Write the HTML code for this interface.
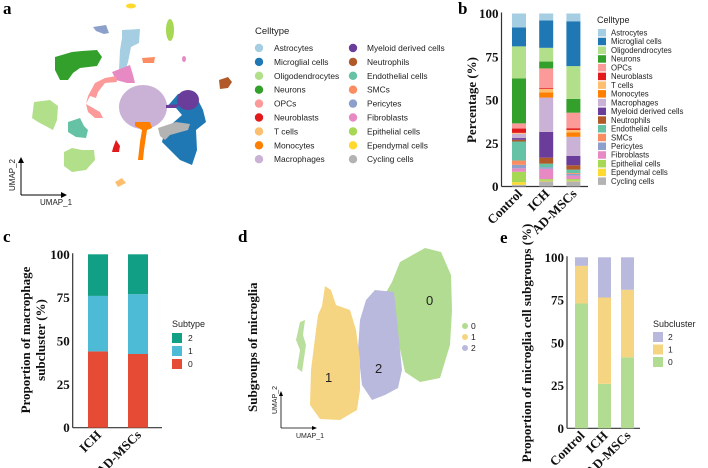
<!DOCTYPE html>
<html><head><meta charset="utf-8">
<style>
html,body{margin:0;padding:0;background:#fff;}
svg{display:block;}
.pl{font-family:"Liberation Serif",serif;font-weight:bold;font-size:17px;fill:#000;}
.tk{font-family:"Liberation Serif",serif;font-weight:bold;font-size:13px;fill:#111;}
.lg{font-family:"Liberation Sans",sans-serif;fill:#222;}
</style></head>
<body>
<svg id="fig" width="708" height="468" viewBox="0 0 708 468" xmlns="http://www.w3.org/2000/svg">
<text class="pl" x="3" y="14">a</text>
<text class="pl" x="458" y="14">b</text>
<text class="pl" x="3" y="242">c</text>
<text class="pl" x="238" y="242">d</text>
<text class="pl" x="500" y="243">e</text>

<!-- Panel a UMAP -->
<g id="umapA">
<ellipse cx="131" cy="6" rx="5" ry="2.5" fill="#ffd92f"/>
<path d="M93,27 L106,25 L109,33 L104,34 L96,31Z" fill="#8da0cb"/>
<ellipse cx="170" cy="30" rx="4" ry="11" fill="#a6d854"/>
<path d="M122,30 L140,29 L139,43 L131,47 L128,62 L125,72 L119,70 L120,50 L122,38Z" fill="#a6cee3"/>
<path d="M142,58 L155,57 L154,63 L143,63Z" fill="#fc8d62"/>
<path d="M55,57 L72,52 L82,51 L97,50 L102,57 L97,66 L80,68 L73,73 L68,80 L60,80 L55,70Z" fill="#33a02c"/>
<path d="M112,72 L130,65 L133,75 L135,83 L127,83 L116,80Z" fill="#e78ac3"/>
<ellipse cx="184" cy="59" rx="2" ry="3" fill="#e78ac3"/>
<path d="M105,78 L116,76 L117,82 L105,83 L98,92 L96,98 L90,96 L86,104 L100,112 L103,118 L95,118 L88,112 L86,104 L88,96 L95,83Z" fill="#fb9a99"/>
<path d="M34,102 L50,100 L58,106 L57,120 L53,130 L38,122 L32,118Z" fill="#b2df8a"/>
<path d="M68,122 L80,118 L84,126 L88,130 L86,138 L76,137 L68,132Z" fill="#66c2a5"/>
<path d="M64,152 L72,148 L82,150 L94,150 L95,160 L86,170 L72,172 L64,166Z" fill="#b2df8a"/>
<path d="M113,148 L116,140 L120,146 L119,152 L112,152Z" fill="#e31a1c"/>
<path d="M115,182 L122,178 L126,183 L118,187Z" fill="#fdbf6f"/>
<ellipse cx="143" cy="107" rx="24" ry="22" fill="#cab2d6"/>
<path d="M135,122 L150,122 L152,128 L147,130 L144,150 L143,160 L138,160 L140,142 L142,130 L135,126Z" fill="#ff7f00"/>
<path d="M166,108 L178,94 L192,91 L198,100 L203,110 L206,122 L196,130 L197,150 L192,165 L180,160 L170,150 L162,142 L165,130 L182,115 L176,108Z" fill="#1f78b4"/>
<ellipse cx="188" cy="100" rx="11" ry="10" fill="#6a3d9a"/>
<path d="M166,105 L180,104 L176,108 L166,108Z" fill="#6a3d9a"/>
<path d="M158,128 L176,122 L190,124 L188,130 L170,135 L165,140 L160,136Z" fill="#b3b3b3"/>
<path d="M219,80 L228,77 L232,82 L228,88 L220,89Z" fill="#b15928"/>
<g stroke="#000" stroke-width="1" fill="none">
<line x1="21" y1="195" x2="21" y2="161"/><line x1="21" y1="195" x2="63" y2="195"/></g>
<path d="M21,157 L18,163 L24,163Z M67,195 L61,192 L61,198Z" fill="#000"/>
<text class="lg" font-size="8" x="40" y="205">UMAP_1</text>
<text class="lg" font-size="8" transform="translate(15,191) rotate(-90)">UMAP_2</text>
</g>
<g id="legendA"></g>

<g id="chartB"></g>
<g id="chartC"></g>

<!-- Panel d -->
<g>
<path d="M300,322 L305,320 L303,335 L306,345 L302,372 L297,368 L300,350 L296,340Z" fill="#b2dc91" opacity="0.9"/>
<path d="M425,248 L441,252 L451,275 L452,310 L450,345 L440,378 L420,382 L405,372 L398,340 L392,300 L384,296 L392,282 L400,262Z" fill="#b2dc91"/>
<path d="M375,290 L394,292 L398,330 L402,370 L398,388 L385,395 L372,400 L362,385 L358,350 L360,320 L366,300Z" fill="#b9b8dd"/>
<path d="M325,286 L331,290 L336,305 L350,310 L356,330 L360,360 L360,390 L357,410 L340,420 L320,419 L310,405 L311,370 L316,330 L318,315 L322,306Z" fill="#f6d582"/>
<text class="lg" font-size="13" x="426" y="305">0</text>
<text class="lg" font-size="13" x="325" y="382">1</text>
<text class="lg" font-size="13" x="375" y="373">2</text>
<circle cx="465" cy="326" r="3" fill="#b2dc91"/><text class="lg" font-size="8.5" x="471" y="329">0</text>
<circle cx="465" cy="337" r="3" fill="#f6d582"/><text class="lg" font-size="8.5" x="471" y="340">1</text>
<circle cx="465" cy="348" r="3" fill="#b9b8dd"/><text class="lg" font-size="8.5" x="471" y="351">2</text>
<g stroke="#000" stroke-width="0.8"><line x1="281" y1="428" x2="281" y2="395"/><line x1="281" y1="428" x2="313" y2="428"/></g>
<path d="M281,391 L279,396 L283,396Z M317,428 L312,426 L312,430Z" fill="#000"/>
<text class="lg" font-size="7" x="296" y="438">UMAP_1</text>
<text class="lg" font-size="7" transform="translate(277,414) rotate(-90)">UMAP_2</text>
<text class="tk" font-size="12" transform="translate(257,412) rotate(-90)">Subgroups of microglia</text>
</g>

<g id="chartE"></g>
</svg>
<script>
var NS="http://www.w3.org/2000/svg";
function mk(parent,tag,attrs,txt){var e=document.createElementNS(NS,tag);for(var k in attrs)e.setAttribute(k,attrs[k]);if(txt!==undefined)e.textContent=txt;parent.appendChild(e);return e;}

var cellTypes=["Astrocytes","Microglial cells","Oligodendrocytes","Neurons","OPCs","Neuroblasts","T cells","Monocytes","Macrophages","Myeloid derived cells","Neutrophils","Endothelial cells","SMCs","Pericytes","Fibroblasts","Epithelial cells","Ependymal cells","Cycling cells"];
var cellColors=["#a6cee3","#1f78b4","#b2df8a","#33a02c","#fb9a99","#e31a1c","#fdbf6f","#ff7f00","#cab2d6","#6a3d9a","#b15928","#66c2a5","#fc8d62","#8da0cb","#e78ac3","#a6d854","#ffd92f","#b3b3b3"];
var groupsB=["Control","ICH","AD-MSCs"];
var controlPct=[8,11,18.5,26,3,2.5,0.5,0,2.5,1,1,11,2.5,2,2,6,1.5,1];
var ichPct=[4,16,8,4,11.5,0.5,2,3,20,15,3.5,2,0,1,6,1,0.3,3];
var admscPct=[4.5,26,19,8,9,1,1.5,2.5,11,5.5,2.5,2,0.5,1,2,1,0.3,3];
var seriesB=[controlPct,ichPct,admscPct];
var ticksB=[0,25,50,75,100];

var groupsC=["ICH","AD-MSCs"];
var subtypes=["2","1","0"];
var subtypeColors=["#11a085","#4dbbd5","#e64b35"];
var ichSub=[24,32,44];
var admscSub=[23,34.5,42.5];

var groupsE=["Control","ICH","AD-MSCs"];
var subclusters=["2","1","0"];
var subclusterColors=["#b9b8dd","#f6d582","#b2dc91"];
var controlSub=[5,22,73];
var ichSubE=[23.5,50.5,26];
var admscSubE=[19,39.5,41.5];

// Legend A
(function(){
 var g=document.getElementById("legendA");
 var t=mk(g,"text",{"class":"lg","font-size":"9.5",x:255,y:34},"Celltype");
 
 
 for(var i=0;i<cellTypes.length;i++){
  var col=i<9?0:1, row=i%9;
  var cx=col?353:259, tx=col?367:274, cy=48+row*13.9;
  var c=mk(g,"circle",{cx:cx,cy:cy,r:4.2,fill:cellColors[i]});
  
  
  var l=mk(g,"text",{"class":"lg","font-size":"8.4",x:tx,y:cy+3},cellTypes[i]);
  
  
 }
})();

function stackedChart(g,opt){
 var y=function(v){return opt.y0-(v/100)*(opt.y0-opt.y100);};
 mk(g,"line",{x1:opt.ax,y1:opt.y100-1,x2:opt.ax,y2:opt.y0,stroke:"#333","stroke-width":1.2});
 mk(g,"line",{x1:opt.ax,y1:opt.y0,x2:opt.axEnd,y2:opt.y0,stroke:"#333","stroke-width":1.2});
 opt.ticks.forEach(function(t){
  var tl=mk(g,"text",{"class":"tk",x:opt.ax-3,y:y(t)+4.5,"text-anchor":"end"},String(t));
  
  
 });
 opt.groups.forEach(function(gr,gi){
  var vals=opt.series[gi];
  var sum=vals.reduce(function(a,b){return a+b;},0);
  var cum=0;
  var x=opt.bx0+gi*opt.step;
  for(var k=vals.length-1;k>=0;k--){
   var v=vals[k]/sum*100;
   var r=mk(g,"rect",{x:x,y:y(cum+v),width:opt.bw,height:Math.max(0,y(cum)-y(cum+v)),fill:opt.colors[k]});
   
   
   cum+=v;
  }
  var lab=mk(g,"text",{"class":"tk","text-anchor":"end",transform:"translate("+(x+opt.bw/2+4)+","+(opt.y0+8)+") rotate(-45)"},gr);
  
  
 });
 var yt=mk(g,"text",{"class":"tk","text-anchor":"middle",transform:"translate("+opt.ytx+","+opt.yty+") rotate(-90)","font-size":opt.ytSize||13},opt.ytitle);
 
 
 if(opt.ytitle2){
  var yt2=mk(g,"text",{"class":"tk","text-anchor":"middle",transform:"translate("+(opt.ytx+15)+","+opt.yty+") rotate(-90)"},opt.ytitle2);
  
  
 }
}

stackedChart(document.getElementById("chartB"),{ax:501.5,axEnd:588,y0:186.5,y100:13.5,ticks:ticksB,groups:groupsB,series:seriesB,colors:cellColors,cats:cellTypes,bx0:512,step:27.2,bw:14,ytitle:"Percentage (%)",ytx:476,yty:100});
(function(){
 var g=document.getElementById("chartB");
 var t=mk(g,"text",{"class":"lg","font-size":"9",x:597,y:23},"Celltype");
 
 
 for(var i=0;i<cellTypes.length;i++){
  var yy=29+i*8.73;
  var r=mk(g,"rect",{x:598,y:yy,width:8,height:7.5,fill:cellColors[i]});
  
  
  var l=mk(g,"text",{"class":"lg","font-size":"7.8",x:611,y:yy+6.5},cellTypes[i]);
  
  
 }
})();

stackedChart(document.getElementById("chartC"),{ax:72.7,axEnd:162,y0:427.7,y100:254.3,ticks:ticksB,groups:groupsC,series:[ichSub,admscSub],colors:subtypeColors,cats:["s2","s1","s0"],bx0:88,step:40,bw:20,ytitle:"Proportion of macrophage",ytitle2:"subcluster (%)",ytx:30,yty:340});
(function(){
 var g=document.getElementById("chartC");
 var t=mk(g,"text",{"class":"lg","font-size":"9",x:172,y:327},"Subtype");
 
 
 for(var i=0;i<subtypes.length;i++){
  var yy=333+i*13;
  var r=mk(g,"rect",{x:172,y:yy,width:10,height:10,fill:subtypeColors[i]});
  
  
  var l=mk(g,"text",{"class":"lg","font-size":"8.5",x:188,y:yy+8},subtypes[i]);
  
  
 }
})();

stackedChart(document.getElementById("chartE"),{ax:567,axEnd:640,y0:428.3,y100:257.3,ticks:ticksB,groups:groupsE,series:[controlSub,ichSubE,admscSubE],colors:subclusterColors,cats:["s2","s1","s0"],bx0:575,step:23,bw:13,ytitle:"Proportion of microglia cell subgroups (%)",ytx:531,yty:343,ytSize:9.8});
(function(){
 var g=document.getElementById("chartE");
 var t=mk(g,"text",{"class":"lg","font-size":"9",x:653,y:327},"Subcluster");
 
 
 for(var i=0;i<subclusters.length;i++){
  var yy=332+i*12.5;
  var r=mk(g,"rect",{x:653,y:yy,width:10,height:10,fill:subclusterColors[i]});
  
  
  var l=mk(g,"text",{"class":"lg","font-size":"8.5",x:668,y:yy+8},subclusters[i]);
  
  
 }
})();
</script>
</body></html>
